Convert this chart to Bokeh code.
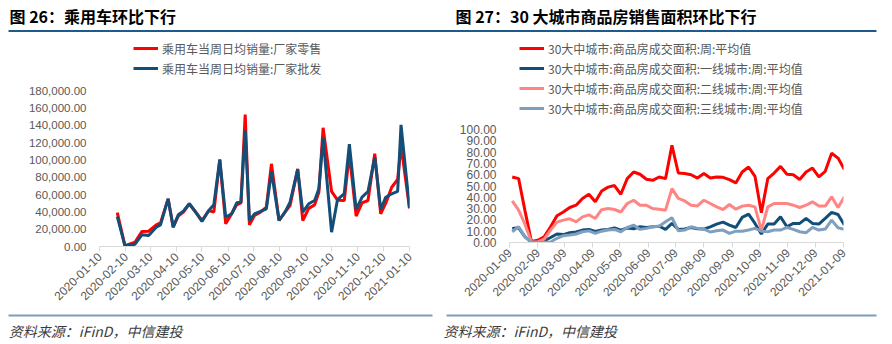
import math
import pandas as pd
from bokeh.plotting import figure
from bokeh.models import (Range1d, FixedTicker, DatetimeTickFormatter, NumeralTickFormatter,
                          Label, BoxAnnotation, Legend, LegendItem, ColumnDataSource)
from bokeh.layouts import row, column
from bokeh.embed import file_html
from bokeh.resources import INLINE

# ---------------- data: left chart (passenger cars) ----------------
car_dates = ["2020-01-31", "2020-02-09", "2020-02-21", "2020-02-29", "2020-03-08", "2020-03-17",
             "2020-03-22", "2020-03-31", "2020-04-06", "2020-04-12", "2020-04-18", "2020-04-25",
             "2020-05-02", "2020-05-10", "2020-05-18", "2020-05-24", "2020-05-31", "2020-06-07",
             "2020-06-14", "2020-06-20", "2020-06-25", "2020-06-30", "2020-07-05", "2020-07-11",
             "2020-07-18", "2020-07-25", "2020-07-31", "2020-08-09", "2020-08-16", "2020-08-22",
             "2020-08-31", "2020-09-06", "2020-09-13", "2020-09-20", "2020-09-25", "2020-09-30",
             "2020-10-10", "2020-10-17", "2020-10-25", "2020-10-31", "2020-11-08", "2020-11-15",
             "2020-11-22", "2020-11-30", "2020-12-07", "2020-12-13", "2020-12-20", "2020-12-27",
             "2020-12-31", "2021-01-10"]
car_retail = [39000, 1000, 5000, 17300, 17700, 25000, 27300, 55000, 22300, 35000, 39600, 49300,
              40400, 30000, 41500, 39600, 100000, 26200, 37700, 48100, 50400, 152300, 25000, 35800,
              39600, 45300, 95400, 30000, 39600, 47300, 89600, 30000, 44000, 48000, 62700, 137000,
              63500, 53500, 53100, 107000, 35000, 50400, 53100, 107000, 37700, 50000, 68400, 77300,
              116600, 44200]
car_wholesale = [34600, 1000, 2700, 13500, 12700, 22300, 25000, 55000, 22300, 36600, 40700, 49300,
                 40400, 29000, 41500, 48100, 100400, 33800, 37700, 50400, 51100, 133900, 30000, 37700,
                 40400, 43500, 86500, 30000, 39600, 51100, 89000, 39600, 49300, 53100, 66600, 125400,
                 16500, 54200, 61000, 118000, 42700, 56900, 63500, 103100, 42700, 56900, 60800, 63500,
                 140400, 44200]
car_xticks = ["2020-01-10", "2020-02-10", "2020-03-10", "2020-04-10", "2020-05-10", "2020-06-10",
              "2020-07-10", "2020-08-10", "2020-09-10", "2020-10-10", "2020-11-10", "2020-12-10",
              "2021-01-10"]
car_yticks = [0, 20000, 40000, 60000, 80000, 100000, 120000, 140000, 160000, 180000]
car_labels = ["乘用车当周日均销量:厂家零售", "乘用车当周日均销量:厂家批发"]

# ---------------- data: right chart (30 cities housing) ----------------
house_dates = ["2020-01-12", "2020-01-19", "2020-01-26", "2020-02-02", "2020-02-09", "2020-02-16",
               "2020-02-23", "2020-03-01", "2020-03-08", "2020-03-15", "2020-03-22", "2020-03-29",
               "2020-04-05", "2020-04-12", "2020-04-19", "2020-04-26", "2020-05-03", "2020-05-10",
               "2020-05-17", "2020-05-24", "2020-05-31", "2020-06-07", "2020-06-14", "2020-06-21",
               "2020-06-28", "2020-07-05", "2020-07-12", "2020-07-19", "2020-07-26", "2020-08-02",
               "2020-08-09", "2020-08-16", "2020-08-23", "2020-08-30", "2020-09-06", "2020-09-13",
               "2020-09-20", "2020-09-27", "2020-10-04", "2020-10-11", "2020-10-18", "2020-10-25",
               "2020-11-01", "2020-11-08", "2020-11-15", "2020-11-22", "2020-11-29", "2020-12-06",
               "2020-12-13", "2020-12-20", "2020-12-27", "2021-01-03", "2021-01-10"]
house_all = [58, 56.5, 28, 1, 2, 5, 14, 23.6, 27, 31, 33, 39, 42.7, 36, 45.6, 49, 50.4, 42.7,
             56.5, 62.4, 60.4, 56, 55, 58, 56.5, 86, 61.5, 61, 60, 57, 61, 57, 58, 57.7, 55.7,
             52.7, 62.4, 66.8, 58.6, 26.3, 56.5, 61.5, 67.4, 60.4, 60, 55.7, 62.4, 65.9, 58, 63,
             79, 74.7, 64.5]
house_tier1 = [12.5, 13, 5, 0.5, 0.5, 1.5, 4.4, 7.5, 7, 8.6, 9.4, 11, 11.6, 9.7, 11, 11.6, 12.8,
               11, 12.8, 12.2, 13.9, 13.3, 13.9, 14.4, 11.6, 16.9, 11.6, 11.9, 13.3, 12.2, 11.9,
               13.9, 16.3, 18, 15.4, 13.3, 22.2, 25.1, 16.9, 7.5, 16.3, 16.3, 22.7, 13.9, 16.9,
               16.9, 21.3, 16.9, 16.3, 21.3, 26.6, 24.8, 15.4]
house_tier2 = [36.8, 28.6, 16, 0.5, 0.5, 3, 11, 18, 19.8, 21, 18.3, 22.7, 24.5, 21.3, 29, 30,
               29.2, 27, 34.5, 37.4, 33, 33, 30, 29.5, 28.6, 47.7, 39, 36.8, 33, 32.4, 37.4, 34.5,
               31.5, 29.2, 33.6, 29.5, 32.2, 33, 31.5, 11, 31.5, 34.5, 34.5, 34.5, 33, 31, 33, 36,
               32.2, 32.2, 40.4, 31, 40.4]
house_tier3 = [9.5, 13.9, 5, 0, 0, 0, 0.5, 3.7, 6, 6.6, 7.5, 9.5, 10.3, 8, 10, 11, 11.6, 9.5,
               13.3, 15.4, 11.6, 12.5, 13.9, 14.4, 18.3, 22, 10.4, 11, 13.9, 12.5, 11.9, 9.3, 10.4,
               11, 8.1, 10, 10, 11, 12.5, 10, 9.5, 11, 11, 13.3, 11.6, 9.5, 8.7, 13.3, 11, 11.9,
               19.8, 13, 11.6]
house_xticks = ["2020-01-09", "2020-02-09", "2020-03-09", "2020-04-09", "2020-05-09", "2020-06-09",
                "2020-07-09", "2020-08-09", "2020-09-09", "2020-10-09", "2020-11-09", "2020-12-09",
                "2021-01-09"]
house_yticks = [0, 10, 20, 30, 40, 50, 60, 70, 80, 90, 100]
house_labels = ["30大中城市:商品房成交面积:周:平均值",
                "30大中城市:商品房成交面积:一线城市:周:平均值",
                "30大中城市:商品房成交面积:二线城市:周:平均值",
                "30大中城市:商品房成交面积:三线城市:周:平均值"]

titles = ["图 26：乘用车环比下行", "图 27：30 大城市商品房销售面积环比下行"]
source_note = "资料来源：iFinD，中信建投"

W = 892
HEAD_H = 33      # header strip (titles + rule)
CHART_BOTTOM = 312
CJK = "Noto Sans CJK SC"
LAT = "Liberation Sans"
GRAY = "#595959"


def ms(d):
    return pd.Timestamp(d).timestamp() * 1000.0


def no_align(p):
    try:
        p.frame_align = False
    except AttributeError:
        pass


def strip_fig(height):
    p = figure(width=W, height=height, x_range=Range1d(0, W), y_range=Range1d(height, 0),
               x_axis_location=None, y_axis_location=None, output_backend="svg",
               toolbar_location=None, tools="", min_border=0)
    p.outline_line_color = None
    p.grid.visible = False
    p.background_fill_color = "white"
    p.border_fill_color = "white"
    no_align(p)
    return p


def chart_fig(width, offset, fl, fr, fb, xr, ymax_label_px, ymax_val, yticks, yfmt, ylab_size):
    # frame spans from the header strip down to the x axis; y values keep their scale
    top = HEAD_H
    y_end = ymax_val * (fb - top) / (fb - ymax_label_px)
    p = figure(width=width, height=CHART_BOTTOM - HEAD_H, x_axis_type="datetime",
               output_backend="svg", toolbar_location=None, tools="",
               x_range=Range1d(pd.Timestamp(xr[0]), pd.Timestamp(xr[-1])),
               y_range=Range1d(0, y_end),
               min_border_left=fl - offset, min_border_right=offset + width - fr,
               min_border_top=0, min_border_bottom=CHART_BOTTOM - fb)
    p.outline_line_color = None
    p.grid.visible = False
    p.background_fill_color = "white"
    p.border_fill_color = "white"
    no_align(p)
    xa = p.xaxis[0]
    xa.ticker = FixedTicker(ticks=[ms(d) for d in xr])
    xa.formatter = DatetimeTickFormatter(days="%Y-%m-%d", months="%Y-%m-%d", years="%Y-%m-%d",
                                         hours="%Y-%m-%d", hourmin="%Y-%m-%d")
    xa.axis_line_color = "#d9d9d9"
    xa.major_tick_line_color = "#d9d9d9"
    xa.major_tick_out = 5
    xa.major_tick_in = 0
    xa.minor_tick_line_color = None
    xa.major_label_orientation = math.pi / 4
    xa.major_label_text_font = LAT
    xa.major_label_text_font_size = "12px"
    xa.major_label_text_color = GRAY
    xa.major_label_standoff = 3
    ya = p.yaxis[0]
    ya.ticker = FixedTicker(ticks=yticks)
    ya.formatter = NumeralTickFormatter(format=yfmt)
    ya.bounds = (0, ymax_val)
    ya.axis_line_color = None
    ya.major_tick_line_color = None
    ya.minor_tick_line_color = None
    ya.major_tick_out = 0
    ya.major_tick_in = 0
    ya.major_label_standoff = 13
    ya.major_label_text_font = LAT
    ya.major_label_text_font_size = ylab_size
    ya.major_label_text_color = GRAY
    return p


def add_legend(p, fl, fb, items, gx, top_y):
    n = len(items)
    leg = Legend(items=items, location=(gx - fl, fb - top_y - 20 * n),
                 orientation="vertical", label_text_font=CJK, label_text_font_size="12px",
                 label_text_color=GRAY, glyph_width=25, glyph_height=20, label_height=20,
                 spacing=0, padding=0, margin=0, label_standoff=4,
                 border_line_color=None, background_fill_alpha=0)
    p.add_layout(leg)


# ---------------- header strip ----------------
head = strip_fig(HEAD_H)
for tx, t in zip([9, 455], titles):
    head.add_layout(Label(x=tx, y=15.5, text=t, text_font=CJK, text_font_style="bold",
                          text_font_size="16px", text_color="#000000",
                          text_align="left", text_baseline="middle"))
head.add_layout(BoxAnnotation(left=8, right=876, top=29.5, bottom=31.5,
                              fill_color="#1E5A8C", fill_alpha=1.0, line_color=None))

# ---------------- left chart ----------------
p1 = chart_fig(440, 0, 99, 409, 246, car_xticks, 90, 180000, car_yticks, "0,0.00", "11.5px")
src1 = ColumnDataSource(dict(x=pd.to_datetime(car_dates), r=car_retail, w=car_wholesale))
r1 = p1.line("x", "r", source=src1, line_width=3, line_color="#FF0000")
r2 = p1.line("x", "w", source=src1, line_width=3, line_color="#124E78")
add_legend(p1, 99, 246, [LegendItem(label=car_labels[0], renderers=[r1]),
                         LegendItem(label=car_labels[1], renderers=[r2])], 133, 38.3)

# ---------------- right chart ----------------
p2 = chart_fig(452, 440, 509, 843, 242, house_xticks, 129, 100, house_yticks, "0.00", "12px")
src2 = ColumnDataSource(dict(x=pd.to_datetime(house_dates), a=house_all, t1=house_tier1,
                             t2=house_tier2, t3=house_tier3))
q1 = p2.line("x", "a", source=src2, line_width=3, line_color="#FF0000")
q2 = p2.line("x", "t1", source=src2, line_width=3, line_color="#124E78")
q3 = p2.line("x", "t2", source=src2, line_width=3, line_color="#FF8585")
q4 = p2.line("x", "t3", source=src2, line_width=3, line_color="#7F9FBF")
add_legend(p2, 509, 242, [LegendItem(label=house_labels[0], renderers=[q1]),
                          LegendItem(label=house_labels[1], renderers=[q2]),
                          LegendItem(label=house_labels[2], renderers=[q3]),
                          LegendItem(label=house_labels[3], renderers=[q4])], 519, 38.3)

# ---------------- footer strip ----------------
FOOT_H = 344 - CHART_BOTTOM
foot = strip_fig(FOOT_H)
for l, r in [(8, 432), (446, 876)]:
    foot.add_layout(BoxAnnotation(left=l, right=r, top=314 - CHART_BOTTOM, bottom=316 - CHART_BOTTOM,
                                  fill_color="#7F9DB9", fill_alpha=1.0, line_color=None))
for tx in [8.3, 443]:
    foot.add_layout(Label(x=tx, y=330 - CHART_BOTTOM, text=source_note, text_font=CJK,
                          text_font_style="italic", text_font_size="14px", text_color="#3C3C3C",
                          text_align="left", text_baseline="middle"))

layout = column(head, row(p1, p2), foot)
open("out.html", "w").write(file_html(layout, INLINE))
